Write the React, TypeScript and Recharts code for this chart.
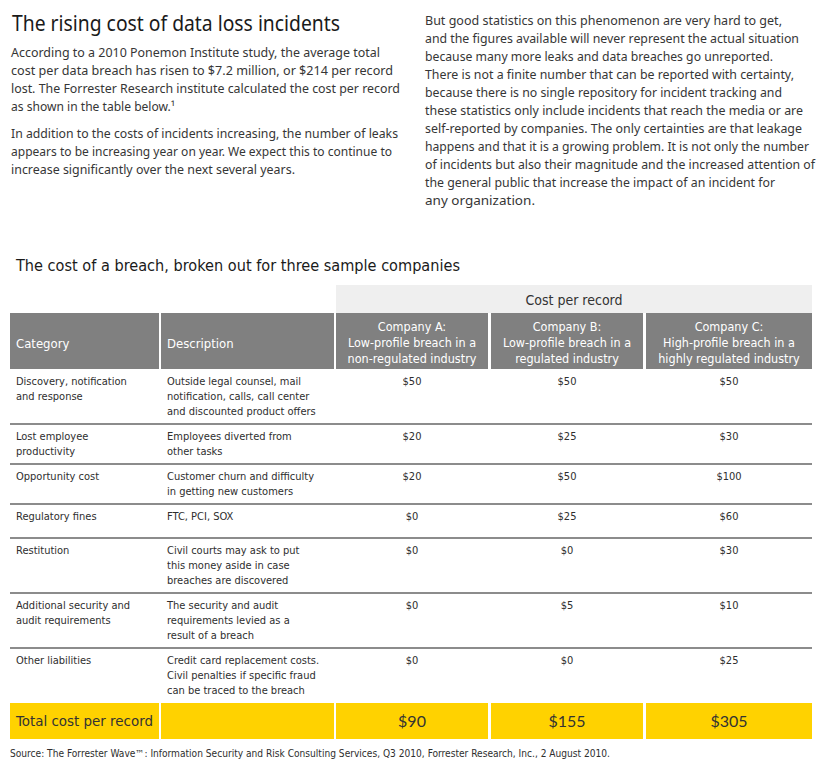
import React from "react";
import { Surface, Layer, Rectangle } from "recharts";

// table content
const categories = [
  ["Discovery, notification", "and response"],
  ["Lost employee", "productivity"],
  ["Opportunity cost"],
  ["Regulatory fines"],
  ["Restitution"],
  ["Additional security and", "audit requirements"],
  ["Other liabilities"],
];

const descriptions = [
  ["Outside legal counsel, mail", "notification, calls, call center", "and discounted product offers"],
  ["Employees diverted from", "other tasks"],
  ["Customer churn and difficulty", "in getting new customers"],
  ["FTC, PCI, SOX"],
  ["Civil courts may ask to put", "this money aside in case", "breaches are discovered"],
  ["The security and audit", "requirements levied as a", "result of a breach"],
  ["Credit card replacement costs.", "Civil penalties if specific fraud", "can be traced to the breach"],
];

const companyA = [50, 20, 20, 0, 0, 0, 0];
const companyB = [50, 25, 50, 25, 0, 5, 0];
const companyC = [50, 30, 100, 60, 30, 10, 25];
const totals = [90, 155, 305];

const companyHeads = [
  ["Company A:", "Low-profile breach in a", "non-regulated industry"],
  ["Company B:", "Low-profile breach in a", "regulated industry"],
  ["Company C:", "High-profile breach in a", "highly regulated industry"],
];

const leftPara1 = [
  "According to a 2010 Ponemon Institute study, the average total",
  "cost per data breach has risen to $7.2 million, or $214 per record",
  "lost. The Forrester Research institute calculated the cost per record",
  "as shown in the table below.¹",
];
const leftPara2 = [
  "In addition to the costs of incidents increasing, the number of leaks",
  "appears to be increasing year on year. We expect this to continue to",
  "increase significantly over the next several years.",
];
const rightPara = [
  "But good statistics on this phenomenon are very hard to get,",
  "and the figures available will never represent the actual situation",
  "because many more leaks and data breaches go unreported.",
  "There is not a finite number that can be reported with certainty,",
  "because there is no single repository for incident tracking and",
  "these statistics only include incidents that reach the media or are",
  "self-reported by companies. The only certainties are that leakage",
  "happens and that it is a growing problem. It is not only the number",
  "of incidents but also their magnitude and the increased attention of",
  "the general public that increase the impact of an incident for",
  "any organization.",
];
const leftP1Ends = [380, 393, 400, 175];
const leftP2Ends = [398, 392, 295];
const rightEnds = [782, 799, 773, 794, 782, 803, 802, 809, 815, 775, 535];

const BODY = "'Noto Sans', sans-serif";
const CELL = "'DejaVu Sans Condensed', 'DejaVu Sans', sans-serif";

// column edges (x0, x1)
const cols: [number, number][] = [
  [10, 159],
  [161, 334],
  [336, 488],
  [491, 643],
  [646, 812],
];

function T({ x, y, size, color, font, anchor, w, children }: any) {
  return (
    <text
      x={x}
      y={y}
      fontSize={size}
      fill={color}
      fontFamily={font}
      textAnchor={anchor || "start"}
      textLength={w}
      lengthAdjust={w ? "spacingAndGlyphs" : undefined}
    >
      {children}
    </text>
  );
}

const fmt = (v: number) => `$${v}`;

export default function App() {
  const headTop = 313;
  const headBottom = 369;
  const heights = descriptions.map((d, i) =>
    Math.max(34, 10 + 15 * Math.max(d.length, categories[i].length))
  );
  const tops: number[] = [];
  heights.reduce((acc, h) => {
    tops.push(acc);
    return acc + h;
  }, headBottom);
  const totalTop = tops[tops.length - 1] + heights[heights.length - 1];
  const values = [companyA, companyB, companyC];

  return (
    <div style={{ position: "absolute", left: 0, top: 0, width: 839, height: 762, background: "#fff" }}>
      <Surface width={839} height={762}>
        {/* title + text columns */}
        <T x={12} y={31} size={21} color="#1a1a1a" font={BODY} w={328}>
          The rising cost of data loss incidents
        </T>
        {leftPara1.map((l, i) => (
          <T key={l} x={11} y={57 + i * 18} size={13} color="#363636" font={BODY} w={leftP1Ends[i] - 11}>
            {l}
          </T>
        ))}
        {leftPara2.map((l, i) => (
          <T key={l} x={11} y={138 + i * 18} size={13} color="#363636" font={BODY} w={leftP2Ends[i] - 11}>
            {l}
          </T>
        ))}
        {rightPara.map((l, i) => (
          <T key={l} x={425} y={25 + i * 18} size={13} color="#363636" font={BODY} w={rightEnds[i] - 425}>
            {l}
          </T>
        ))}

        <T x={16} y={271} size={15} color="#1a1a1a" font={CELL} w={444}>
          The cost of a breach, broken out for three sample companies
        </T>

        {/* header */}
        <Rectangle x={336} y={285} width={476} height={28} fill="#efefef" />
        <T x={574} y={305} size={14} color="#333" font={CELL} anchor="middle">
          Cost per record
        </T>
        <Layer>
          {cols.map(([a, b]) => (
            <Rectangle key={a} x={a} y={headTop} width={b - a} height={headBottom - headTop} fill="#808080" />
          ))}
          <T x={16} y={348} size={13} color="#fff" font={CELL}>Category</T>
          <T x={167} y={348} size={13} color="#fff" font={CELL}>Description</T>
          {companyHeads.map((lines, c) =>
            lines.map((l, j) => (
              <T key={l + c} x={(cols[c + 2][0] + cols[c + 2][1]) / 2} y={331 + j * 16} size={12.5} color="#fff" font={CELL} anchor="middle">
                {l}
              </T>
            ))
          )}
        </Layer>

        {/* rows */}
        {tops.map((top, i) => (
          <Layer key={i}>
            {i > 0 && <Rectangle x={10} y={top - 1} width={802} height={2} fill="#8c8c8c" />}
            {categories[i].map((l, j) => (
              <T key={l} x={16} y={top + 16 + j * 15} size={11} color="#2e2e2e" font={CELL}>{l}</T>
            ))}
            {descriptions[i].map((l, j) => (
              <T key={l} x={167} y={top + 16 + j * 15} size={11} color="#2e2e2e" font={CELL}>{l}</T>
            ))}
            {values.map((vals, c) => (
              <T key={c} x={(cols[c + 2][0] + cols[c + 2][1]) / 2} y={top + 16} size={11} color="#2e2e2e" font={CELL} anchor="middle">
                {fmt(vals[i])}
              </T>
            ))}
          </Layer>
        ))}

        {/* totals */}
        <Layer>
          {cols.map(([a, b]) => (
            <Rectangle key={a} x={a} y={totalTop} width={b - a} height={36} fill="#ffd200" />
          ))}
          <T x={16} y={totalTop + 23} size={14} color="#333" font={CELL} w={137}>Total cost per record</T>
          {totals.map((v, c) => (
            <T key={c} x={(cols[c + 2][0] + cols[c + 2][1]) / 2} y={totalTop + 24} size={16} color="#333" font="Lato, sans-serif" anchor="middle">
              {fmt(v)}
            </T>
          ))}
        </Layer>

        <T x={10} y={757} size={10} color="#2e2e2e" font={CELL} w={600}>
          Source: The Forrester Wave™: Information Security and Risk Consulting Services, Q3 2010, Forrester Research, Inc., 2 August 2010.
        </T>
      </Surface>
    </div>
  );
}
